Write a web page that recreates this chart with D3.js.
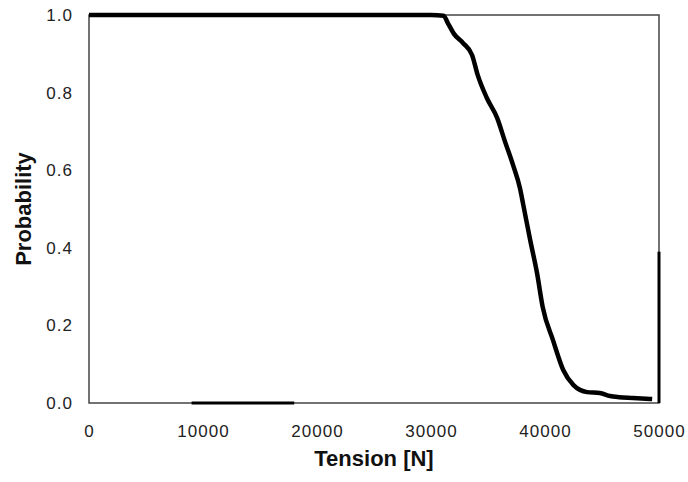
<!DOCTYPE html>
<html>
<head>
<meta charset="utf-8">
<script src="https://cdn.jsdelivr.net/npm/d3@7"></script>
<style>
  body { margin: 0; background: #fff; }
  svg { display: block; font-family: Arial, "Liberation Sans", sans-serif; }
</style>
</head>
<body>
<div id="chart"></div>
<script>
// tension values (N) and the matching probability
const tension = [0, 5000, 10000, 15000, 20000, 25000, 30000, 31100, 31500, 32000,
  32800, 33600, 34100, 34900, 35800, 36500, 37200, 37800, 38100, 38700,
  39300, 39800, 40700, 41600, 42500, 43700, 44800, 45700, 46500, 47700, 49400];
const probability = [1, 1, 1, 1, 1, 1, 1, 0.998, 0.978, 0.952,
  0.928, 0.897, 0.845, 0.786, 0.735, 0.673, 0.613, 0.554, 0.51, 0.42,
  0.335, 0.247, 0.162, 0.085, 0.046, 0.028, 0.026, 0.018, 0.015, 0.013, 0.01];

const xTicks = [0, 10000, 20000, 30000, 40000, 50000];
const yTicks = [0, 0.2, 0.4, 0.6, 0.8, 1.0];

// heavier bits of the frame seen in the scan (data units)
const bottomHeavy = [9000, 18000];
const rightHeavy = [0, 0.39];

const width = 688, height = 482;
const margin = { top: 15, right: 29, bottom: 79, left: 89 };

const svg = d3.select("#chart").append("svg")
  .attr("width", width)
  .attr("height", height);

const x = d3.scaleLinear().domain([0, 50000]).range([margin.left, width - margin.right]);
const y = d3.scaleLinear().domain([0, 1]).range([height - margin.bottom, margin.top]);

// plot frame
svg.append("rect")
  .attr("x", x(0))
  .attr("y", y(1))
  .attr("width", x(50000) - x(0))
  .attr("height", y(0) - y(1))
  .attr("fill", "none")
  .attr("stroke", "#444")
  .attr("stroke-width", 1.5);

svg.append("line")
  .attr("x1", x(bottomHeavy[0])).attr("x2", x(bottomHeavy[1]))
  .attr("y1", y(0)).attr("y2", y(0))
  .attr("stroke", "#000").attr("stroke-width", 3);

svg.append("line")
  .attr("x1", x(50000)).attr("x2", x(50000))
  .attr("y1", y(rightHeavy[0])).attr("y2", y(rightHeavy[1]))
  .attr("stroke", "#000").attr("stroke-width", 3);

// axes (labels only, no tick marks)
const xAxis = svg.append("g")
  .attr("transform", `translate(0,${y(0)})`)
  .call(d3.axisBottom(x).tickValues(xTicks).tickSize(0).tickPadding(22).tickFormat(d3.format("d")));
xAxis.select(".domain").remove();

const yAxis = svg.append("g")
  .attr("transform", `translate(${x(0)},0)`)
  .call(d3.axisLeft(y).tickValues(yTicks).tickSize(0).tickPadding(16).tickFormat(d3.format(".1f")));
yAxis.select(".domain").remove();

svg.selectAll(".tick text")
  .attr("font-size", 17)
  .attr("font-family", "Arial, 'Liberation Sans', sans-serif")
  .attr("letter-spacing", 1)
  .attr("fill", "#222");

// the probability curve
const pts = tension.map((t, i) => [t, probability[i]]);
const line = d3.line()
  .x(d => x(d[0]))
  .y(d => y(d[1]))
  .curve(d3.curveMonotoneX);

svg.append("path")
  .datum(pts)
  .attr("d", line)
  .attr("fill", "none")
  .attr("stroke", "#000")
  .attr("stroke-width", 4.5)
  .attr("stroke-linejoin", "round");

// axis titles
svg.append("text")
  .attr("x", (x(0) + x(50000)) / 2)
  .attr("y", 466)
  .attr("text-anchor", "middle")
  .attr("font-size", 22)
  .attr("font-weight", "bold")
  .attr("fill", "#111")
  .text("Tension [N]");

svg.append("text")
  .attr("transform", `translate(31,${(y(0) + y(1)) / 2}) rotate(-90)`)
  .attr("text-anchor", "middle")
  .attr("font-size", 22)
  .attr("font-weight", "bold")
  .attr("fill", "#111")
  .text("Probability");
</script>
</body>
</html>
